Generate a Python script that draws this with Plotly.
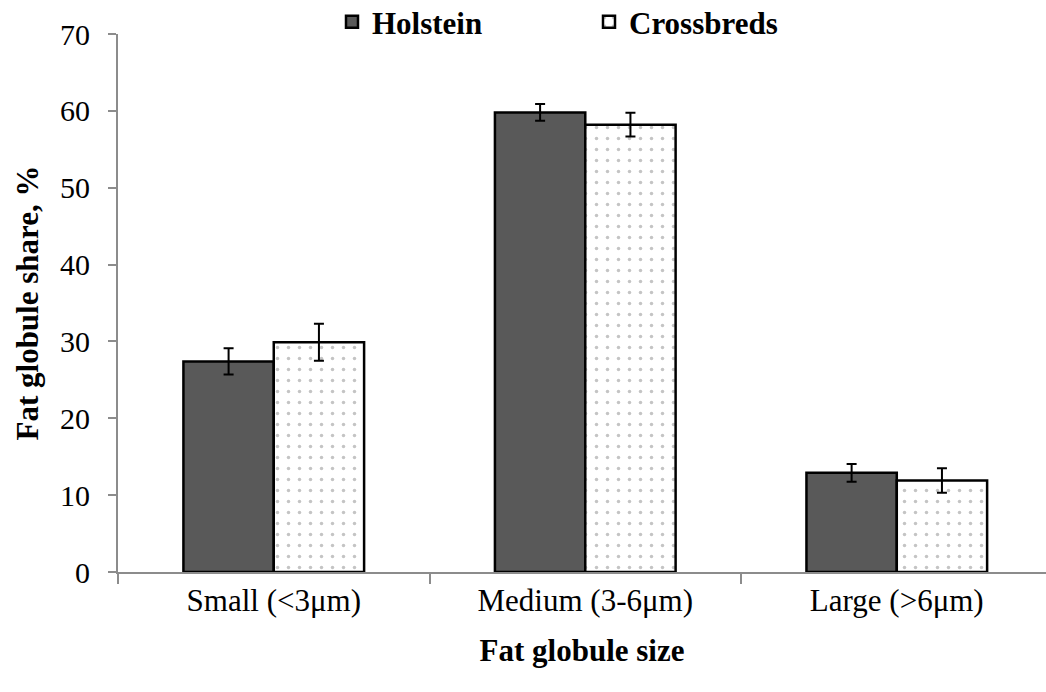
import plotly.graph_objects as go

categories = ["Small (<3μm)", "Medium (3-6μm)", "Large (>6μm)"]
holstein = [27.4, 59.8, 12.9]
holstein_err = [1.7, 1.1, 1.15]
crossbreds = [29.9, 58.2, 11.9]
crossbreds_err = [2.4, 1.55, 1.6]
y_ticks = [0, 10, 20, 30, 40, 50, 60, 70]

FONT = "Liberation Serif, Times New Roman, serif"

fig = go.Figure()
fig.add_trace(go.Bar(
    name="Holstein", x=categories, y=holstein,
    marker=dict(color="#595959", line=dict(color="black", width=2.5)),
    error_y=dict(type="data", array=holstein_err, color="black", thickness=2, width=5),
))
fig.add_trace(go.Bar(
    name="Crossbreds", x=categories, y=crossbreds,
    marker=dict(color="white", line=dict(color="black", width=2.5),
                pattern=dict(shape=".", fgcolor="#8a8a8a", bgcolor="white", size=11, solidity=0.08)),
    error_y=dict(type="data", array=crossbreds_err, color="black", thickness=2, width=5),
))

fig.update_layout(
    width=1046, height=692,
    margin=dict(l=118, r=0, t=34, b=120, autoexpand=False),
    paper_bgcolor="white", plot_bgcolor="white",
    font=dict(family=FONT, size=22, color="black"),
    barmode="group", bargap=0.42, bargroupgap=0,
    showlegend=True,
    legend=dict(orientation="h", x=0.2306, xanchor="left", y=1.022, yanchor="middle",
                font=dict(family=FONT, size=31, color="black", weight="bold"),
                entrywidth=212, itemwidth=30, bgcolor="rgba(0,0,0,0)"),
    xaxis=dict(
        range=[-0.5, 2.479], showline=True, linecolor="#8c8c8c", linewidth=2,
        ticks="outside", tickson="boundaries", ticklen=10, tickcolor="#8c8c8c", tickwidth=2,
        showgrid=False, tickfont=dict(family=FONT, size=31),
        title=dict(text="<b>Fat globule size</b>", font=dict(family=FONT, size=31), standoff=22),
    ),
    yaxis=dict(
        range=[0, 70], tickvals=y_ticks, showline=True, linecolor="#8c8c8c", linewidth=2,
        ticks="outside", ticklen=8, tickcolor="#8c8c8c", tickwidth=2, ticklabelstandoff=12,
        showgrid=False, zeroline=False, tickfont=dict(family=FONT, size=30),
        title=dict(text="<b>Fat globule share, %</b>", font=dict(family=FONT, size=31), standoff=12),
    ),
)

fig.write_html("out.html")
